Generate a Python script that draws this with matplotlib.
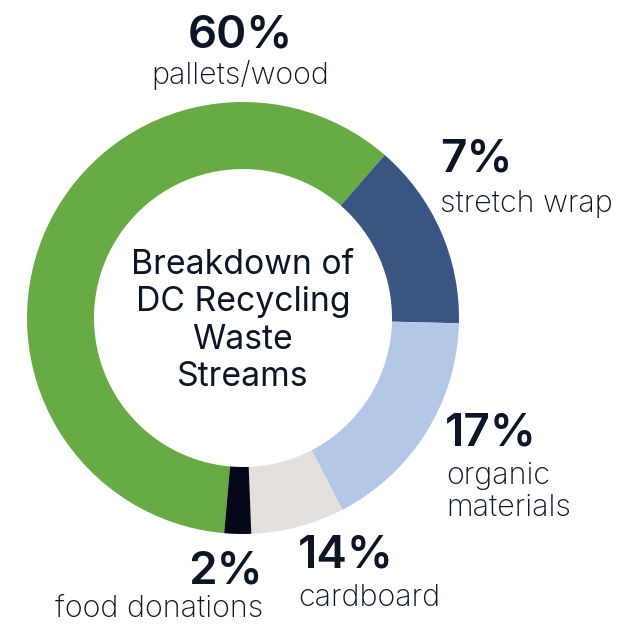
import matplotlib.pyplot as plt

# Waste streams (slice sizes as drawn) and the printed labels
streams = ['pallets/wood', 'stretch wrap', 'organic\nmaterials', 'cardboard', 'food donations']
shares = [60, 14, 17, 7, 2]
pct_text = ['60%', '7%', '17%', '14%', '2%']
colors = ['#68aa44', '#3a5581', '#b3c8e7', '#e3dfdd', '#040818']

TXT = '#0b1526'
W, H = 635, 626

fig = plt.figure(figsize=(W / 100, H / 100), dpi=100)
ax = fig.add_axes([0, 0, 1, 1])
ax.axis('off')

# donut
ax.pie(shares, colors=colors, startangle=265, counterclock=False,
       center=(243, H - 318), radius=216,
       wedgeprops=dict(width=67, linewidth=0))
ax.set_xlim(0, W)
ax.set_ylim(0, H)
ax.set_aspect('equal')

# label anchors (pixel coords from top-left), alignment
spots = [((240, 35), (240, 75), 'center'),
         ((440, 160), (440, 204), 'left'),
         ((445, 433), (446, 492), 'left'),
         ((298, 556), (298, 598), 'left'),
         ((263, 572), (263, 609), 'right')]

for pct, name, (p1, p2, ha) in zip(pct_text, streams, spots):
    ax.text(p1[0], H - p1[1], pct, ha=ha, va='center', fontsize=33,
            fontweight='semibold', family='Inter', color=TXT)
    ax.text(p2[0], H - p2[1], name, ha=ha, va='center', fontsize=22,
            fontweight='light', family='Inter', color=TXT, linespacing=1.15)

ax.text(243, H - 321, 'Breakdown of\nDC Recycling\nWaste\nStreams',
        ha='center', va='center', fontsize=24.3, family='Inter',
        color=TXT, linespacing=1.21)

fig.savefig('out.png', dpi=100)
